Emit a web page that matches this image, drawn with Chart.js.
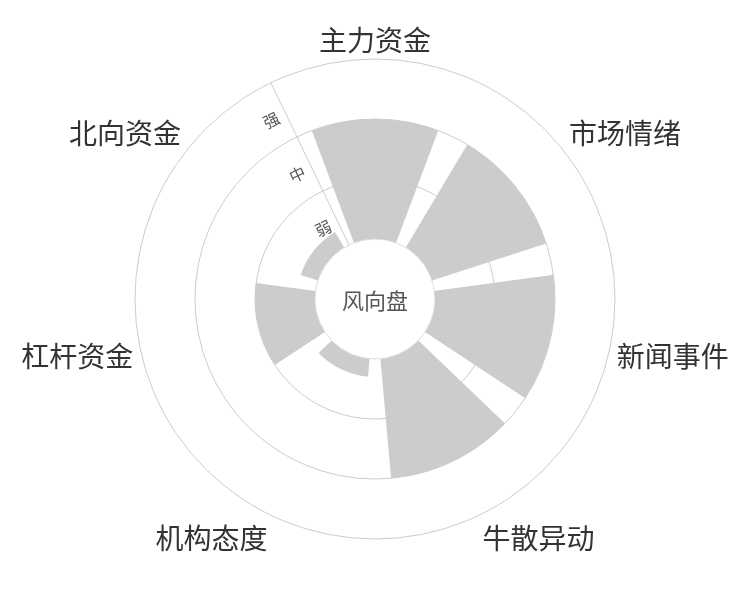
<!DOCTYPE html>
<html>
<head>
<meta charset="utf-8">
<title>风向盘</title>
<script src="https://cdn.jsdelivr.net/npm/chart.js@4.4.1/dist/chart.umd.min.js"></script>
<style>
    html, body { margin: 0; padding: 0; background: #fff; }
    #wrap { width: 750px; height: 600px; }
</style>
</head>
<body>
<div id="wrap"><canvas id="mainChart"></canvas></div>
<script>
// categories round the dial, clockwise from the top
var categories = ['主力资金', '市场情绪', '新闻事件', '牛散异动', '机构态度', '杠杆资金', '北向资金'];
// strength per category (1 = 弱, 2 = 中, 3 = 强)
var strength = [2, 2, 2, 2, 0.3, 1, 0.3];
// band names on the radius axis
var levels = ['弱', '中', '强'];
var centerTitle = '风向盘';

var FONT = '"Noto Sans CJK SC", "Noto Sans", sans-serif';
var BAR_COLOR = '#cccccc';
var LINE_COLOR = '#cccccc';

// every category owns one slice, the bar takes 80% of it
var sliceAngle = 360 / categories.length;
var barAngle = sliceAngle * 0.8;
var halfGap = (sliceAngle - barAngle) / 2;

// build the element list: half gap, bar, half gap for each category
var values = [], angles = [], colors = [], labels = [];
categories.forEach(function(name, i) {
    values.push(0, strength[i], 0);
    angles.push(halfGap, barAngle, halfGap);
    colors.push('transparent', BAR_COLOR, 'transparent');
    labels.push('', name, '');
});

// hole, centre title, band names and category names
var dialDecor = {
    id: 'dialDecor',
    afterDatasetsDraw: function(chart) {
        var ctx = chart.ctx;
        var scale = chart.scales.r;
        var cx = scale.xCenter, cy = scale.yCenter;
        var hole = scale.getDistanceFromCenterForValue(0);

        ctx.save();
        ctx.beginPath();
        ctx.arc(cx, cy, hole, 0, Math.PI * 2);
        ctx.fillStyle = '#fff';
        ctx.fill();
        ctx.lineWidth = 1;
        ctx.strokeStyle = '#dddddd';
        ctx.stroke();

        ctx.textAlign = 'center';
        ctx.textBaseline = 'middle';
        ctx.fillStyle = '#555';
        ctx.font = '22px ' + FONT;
        ctx.fillText(centerTitle, cx, cy + 2);

        // band names sit beside the axis line
        ctx.translate(cx, cy);
        ctx.rotate(scale.getIndexAngle(0));
        ctx.fillStyle = '#555';
        ctx.font = '16px ' + FONT;
        levels.forEach(function(txt, i) {
            var r = scale.getDistanceFromCenterForValue(i + 0.5) - 4;
            ctx.fillText(txt, -16, -r);
        });
        ctx.restore();

        ctx.save();
        ctx.fillStyle = '#333';
        ctx.font = '28px ' + FONT;
        ctx.textBaseline = 'middle';
        var dist = scale.drawingArea + 8;
        categories.forEach(function(name, i) {
            var p = scale.getPointPosition(i, dist, Math.PI / categories.length);
            var dx = (p.x - cx) / dist, dy = (p.y - cy) / dist;
            ctx.textAlign = Math.abs(dx) < 0.3 ? 'center' : (dx > 0 ? 'left' : 'right');
            var y = Math.abs(dy) < 0.3 ? p.y + 2 : (dy > 0 ? p.y + 16 : p.y - 11);
            ctx.fillText(name, p.x, y);
        });
        ctx.restore();
    }
};

var chartContainer = document.getElementById('mainChart');
var mainChart = new Chart(chartContainer, {
    type: 'polarArea',
    data: {
        labels: labels,
        datasets: [{
            data: values,
            angle: angles,
            backgroundColor: colors,
            borderWidth: 0
        }]
    },
    options: {
        responsive: true,
        maintainAspectRatio: false,
        animation: false,
        layout: { padding: { left: 135, right: 135, top: 59, bottom: 61 } },
        plugins: {
            legend: { display: false },
            tooltip: { enabled: false }
        },
        scales: {
            r: {
                labels: categories,
                min: -1,
                max: 3,
                startAngle: -sliceAngle / 2,
                ticks: { display: false, stepSize: 1 },
                grid: {
                    circular: true,
                    lineWidth: 1,
                    color: function(c) {
                        return c.tick && c.tick.value >= 1 ? LINE_COLOR : 'transparent';
                    }
                },
                angleLines: {
                    display: true,
                    lineWidth: 1,
                    color: function(c) {
                        return c.index === 0 ? LINE_COLOR : 'transparent';
                    }
                },
                pointLabels: { display: false }
            }
        }
    },
    plugins: [dialDecor]
});
</script>
</body>
</html>
